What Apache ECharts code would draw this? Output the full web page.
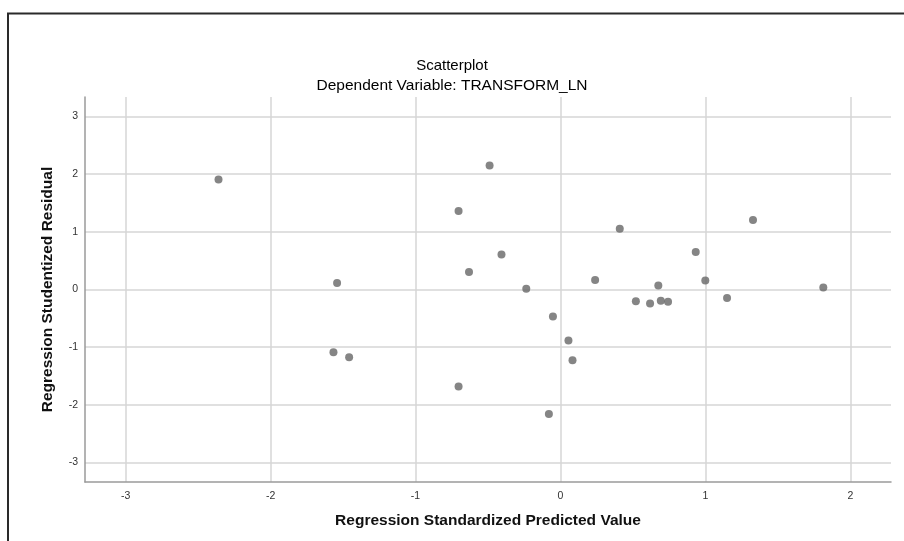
<!DOCTYPE html>
<html>
<head>
<meta charset="utf-8">
<script src="https://cdn.jsdelivr.net/npm/echarts@6/dist/echarts.min.js"></script>
<style>
  html,body{margin:0;padding:0;background:#fff}
  #chart{width:904px;height:541px}
</style>
</head>
<body>
<div id="chart"></div>
<script>
// 残差散点图:x = 标准化预测值,y = 学生化残差
const predicted = [-0.489, -0.703, 0.409, 0.933, -0.407, -0.631, -1.541, 0.239, 0.675, -0.236,
  0.520, 0.618, 0.692, 0.742, -0.052, 0.055, 0.083, -1.566, -1.458, -0.703, -0.080,
  1.328, 0.999, 1.813, 1.149, -2.359]
const residual = [2.153, 1.361, 1.054, 0.649, 0.608, 0.302, 0.111, 0.163, 0.069, 0.012,
  -0.202, -0.243, -0.196, -0.214, -0.469, -0.885, -1.226, -1.087, -1.174, -1.684, -2.158,
  1.205, 0.156, 0.035, -0.149, 1.910]
const xRange = [-3.28, 2.28]
const yRange = [-3.34, 3.34]
const titleText = 'Scatterplot'
const subText = 'Dependent Variable: TRANSFORM_LN'
const xName = 'Regression Standardized Predicted Value'
const yName = 'Regression Studentized Residual'

const FONT = '"Liberation Sans", Arial, sans-serif'
const axisCommon = {
  type:'value', minInterval:1, maxInterval:1,
  axisLine:{show:true, onZero:false, lineStyle:{color:'#9a9a9a', width:1.5}},
  axisTick:{show:false},
  axisLabel:{color:'#333', fontSize:10.5, fontFamily:FONT, showMinLabel:false, showMaxLabel:false,
    formatter: v => Number.isInteger(v) ? String(v) : ''},
  splitLine:{show:true, showMinLine:false, showMaxLine:false, lineStyle:{color:'#d6d6d6', width:1.5}},
  nameLocation:'middle',
  nameTextStyle:{color:'#111', fontSize:15.5, fontWeight:'bold', fontFamily:FONT}
}

const c = echarts.init(document.getElementById('chart'), null, {renderer:'canvas'})
c.setOption({
  backgroundColor:'#fff',
  animation:false,
  title:[
    {text:titleText, left:'center', top:53, textStyle:{color:'#000', fontSize:15, fontWeight:500, fontFamily:FONT}},
    {text:subText, left:'center', top:73, textStyle:{color:'#000', fontSize:15.5, fontWeight:500, fontFamily:FONT}}
  ],
  grid:{left:85, right:13, top:97, bottom:59},
  xAxis:Object.assign({}, axisCommon, {min:xRange[0], max:xRange[1], name:xName, nameGap:31,
    axisLabel:Object.assign({}, axisCommon.axisLabel, {margin:9})}),
  yAxis:Object.assign({}, axisCommon, {min:yRange[0], max:yRange[1], name:yName, nameGap:29,
    axisLabel:Object.assign({}, axisCommon.axisLabel, {margin:7})}),
  series:[{
    type:'scatter', symbol:'circle', symbolSize:8,
    itemStyle:{color:'#666'},
    data:predicted.map((x,i)=>[x, residual[i]])
  }],
  graphic:[
    {type:'line', shape:{x1:7, y1:13.5, x2:904, y2:13.5}, style:{stroke:'#2a2a2a', lineWidth:2}},
    {type:'line', shape:{x1:8, y1:13.5, x2:8, y2:541}, style:{stroke:'#2a2a2a', lineWidth:2}}
  ]
})
</script>
</body>
</html>
